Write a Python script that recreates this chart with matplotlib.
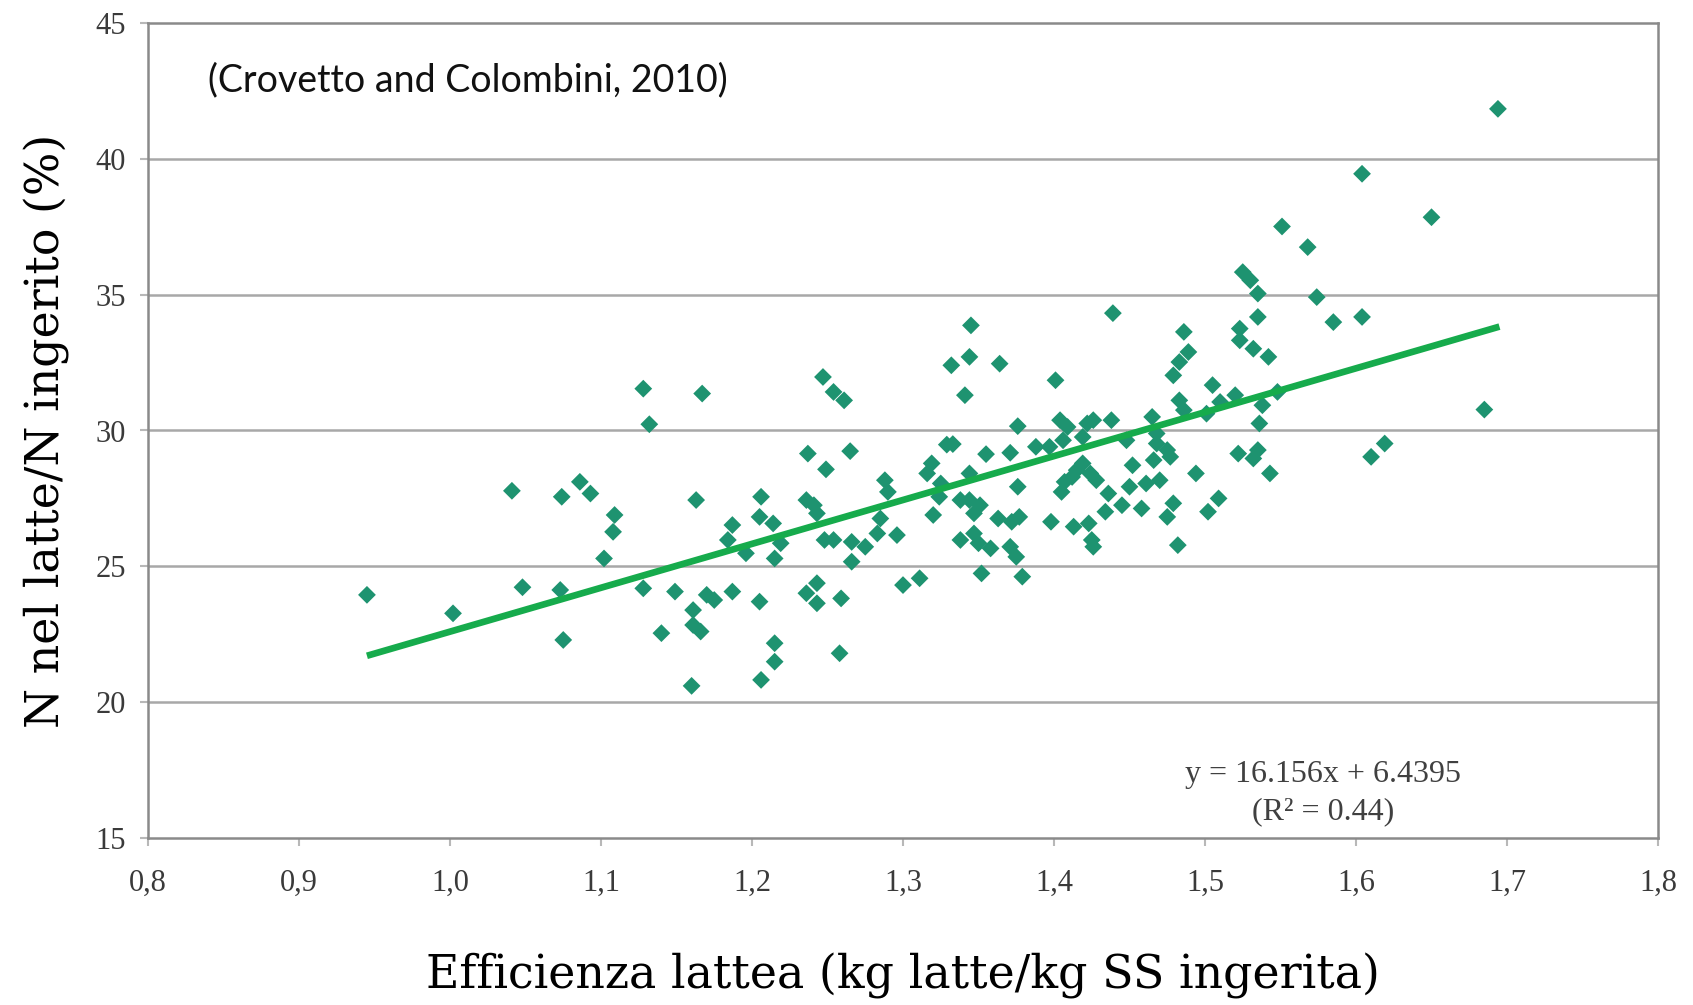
import matplotlib
matplotlib.use("Agg")
import matplotlib.pyplot as plt
import numpy as np

# ---- data ----
eff_x = [
    0.945, 1.002, 1.041, 1.048, 1.074, 1.086, 1.093, 1.073, 1.075, 1.109,
    1.108, 1.102, 1.128, 1.132, 1.128, 1.140, 1.149, 1.160, 1.163, 1.167,
    1.161, 1.161, 1.166, 1.170, 1.175,
    1.187, 1.184, 1.196, 1.187, 1.206, 1.205, 1.214, 1.219, 1.215, 1.205,
    1.215, 1.215, 1.206, 1.247, 1.254, 1.261, 1.237, 1.265, 1.249, 1.236,
    1.241, 1.243, 1.248, 1.254, 1.266, 1.275, 1.266, 1.236, 1.243, 1.243,
    1.259, 1.258, 1.285, 1.283, 1.296, 1.288, 1.290, 1.300, 1.311,
    1.319, 1.316, 1.325, 1.320, 1.329, 1.345, 1.344, 1.332, 1.364, 1.341,
    1.401, 1.439, 1.376, 1.333, 1.355, 1.371, 1.388, 1.397, 1.404, 1.409,
    1.406, 1.422, 1.426, 1.438, 1.419, 1.448, 1.465, 1.468, 1.468, 1.475,
    1.477, 1.466, 1.452, 1.470, 1.461, 1.450, 1.458, 1.445, 1.436, 1.434,
    1.475, 1.419, 1.415, 1.412, 1.424, 1.428, 1.407, 1.405, 1.398, 1.413,
    1.423, 1.425, 1.426, 1.376, 1.377, 1.363, 1.372, 1.344, 1.344, 1.351,
    1.347, 1.338, 1.324, 1.338, 1.347, 1.350, 1.358, 1.371, 1.375, 1.352,
    1.379,
    1.486, 1.483, 1.479, 1.483, 1.486, 1.489, 1.482, 1.479, 1.505, 1.520,
    1.510, 1.501, 1.538, 1.548, 1.536, 1.522, 1.532, 1.535, 1.543, 1.494,
    1.509, 1.502, 1.525, 1.530, 1.535, 1.574, 1.585, 1.604, 1.535, 1.523,
    1.523, 1.532, 1.542, 1.610, 1.619, 1.694, 1.604, 1.650, 1.551, 1.568,
    1.685,
]
n_ratio = [
    23.95, 23.27, 27.78, 24.23, 27.56, 28.11, 27.68, 24.13, 22.29, 26.89,
    26.27, 25.29, 31.54, 30.23, 24.19, 22.54, 24.07, 20.60, 27.44, 31.36,
    23.39, 22.84, 22.60, 23.95, 23.76,
    26.52, 25.97, 25.48, 24.07, 27.56, 26.82, 26.58, 25.85, 25.29, 23.70,
    22.17, 21.49, 20.82, 31.97, 31.42, 31.11, 29.15, 29.24, 28.57, 27.44,
    27.25, 26.95, 25.97, 25.97, 25.90, 25.72, 25.17, 24.01, 24.38, 23.64,
    23.82, 21.80, 26.76, 26.21, 26.15, 28.17, 27.74, 24.31, 24.56,
    28.79, 28.42, 28.05, 26.89, 29.48, 33.87, 32.71, 32.40, 32.46, 31.30,
    31.85, 34.32, 30.16, 29.50, 29.13, 29.18, 29.40, 29.40, 30.38, 30.13,
    29.64, 30.26, 30.38, 30.38, 29.76, 29.64, 30.50, 29.89, 29.52, 29.28,
    29.03, 28.91, 28.72, 28.17, 28.05, 27.93, 27.13, 27.25, 27.68, 27.01,
    26.82, 28.79, 28.54, 28.29, 28.42, 28.17, 28.11, 27.74, 26.64, 26.46,
    26.58, 25.97, 25.72, 27.93, 26.82, 26.76, 26.64, 28.42, 27.44, 27.25,
    26.95, 27.44, 27.56, 25.97, 26.21, 25.85, 25.66, 25.72, 25.35, 24.74,
    24.62,
    33.63, 32.52, 32.03, 31.11, 30.75, 32.89, 25.78, 27.32, 31.67, 31.30,
    31.05, 30.62, 30.93, 31.42, 30.26, 29.15, 28.97, 29.28, 28.42, 28.42,
    27.50, 27.01, 35.83, 35.53, 35.04, 34.91, 33.99, 34.18, 34.18, 33.75,
    33.32, 33.01, 32.71, 29.03, 29.52, 41.84, 39.45, 37.85, 37.51, 36.75,
    30.77,
]
fit_slope = 16.156
fit_intercept = 6.4395
fit_x = [0.945, 1.695]

x_ticks = [0.8, 0.9, 1.0, 1.1, 1.2, 1.3, 1.4, 1.5, 1.6, 1.7, 1.8]
x_tick_labels = ["0,8", "0,9", "1,0", "1,1", "1,2", "1,3", "1,4", "1,5", "1,6", "1,7", "1,8"]
y_ticks = [15, 20, 25, 30, 35, 40, 45]

x_label = "Efficienza lattea (kg latte/kg SS ingerita)"
y_label = "N nel latte/N ingerito (%)"
citation = "(Crovetto and Colombini, 2010)"
eq_text = "y = 16.156x + 6.4395"
r2_text = "(R² = 0.44)"

# ---- figure ----
fig = plt.figure(figsize=(16.93, 10.05), dpi=100)
ax = fig.add_axes([148 / 1693, 1 - 838 / 1005, (1658 - 148) / 1693, (838 - 23) / 1005])

ax.set_xlim(0.8, 1.8)
ax.set_ylim(15, 45)

for yv in y_ticks[1:-1]:
    ax.axhline(yv, color="#a8a8a8", lw=1.8, zorder=1)

ax.scatter(eff_x, n_ratio, marker="D", s=82, color="#1e9370", edgecolors="none", zorder=3)

fx = np.array(fit_x)
ax.plot(fx, fit_slope * fx + fit_intercept, color="#16ab4c", lw=4.8,
        solid_capstyle="butt", zorder=4)

for sp in ax.spines.values():
    sp.set_color("#8a8a8a")
    sp.set_linewidth(1.8)

ax.set_xticks(x_ticks)
ax.set_xticklabels(x_tick_labels)
ax.set_yticks(y_ticks)
ax.tick_params(axis="both", direction="out", color="#b8b8b8", width=1.5,
               length=6, labelsize=22, labelcolor="#3a3a3a")
ax.tick_params(axis="x", pad=16)
ax.tick_params(axis="y", pad=10)
for lab in ax.get_xticklabels() + ax.get_yticklabels():
    lab.set_family("Liberation Serif")

ax.set_xlabel(x_label, family="DejaVu Serif", fontsize=33, labelpad=40)
ax.set_ylabel(y_label, family="DejaVu Serif", fontsize=33, labelpad=18)

ax.text(0.04, 0.93, citation, transform=ax.transAxes, family="Lato",
        fontsize=27, color="#111111", va="center", ha="left")
ax.text(0.778, 0.078, eq_text, transform=ax.transAxes, family="Liberation Serif",
        fontsize=23, color="#404040", ha="center", va="center")
ax.text(0.778, 0.032, r2_text, transform=ax.transAxes, family="Liberation Serif",
        fontsize=23, color="#404040", ha="center", va="center")

fig.savefig("out.png", dpi=100, facecolor="white")
